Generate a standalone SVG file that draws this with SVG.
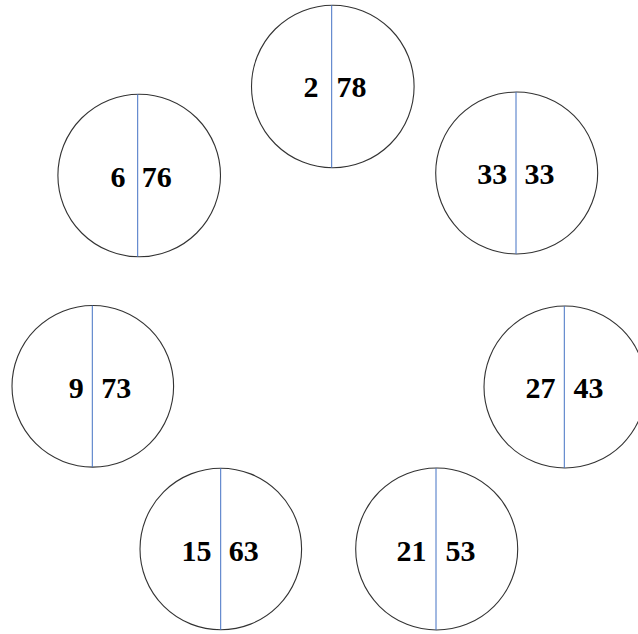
<svg xmlns="http://www.w3.org/2000/svg" width="638" height="634" viewBox="0 0 638 634">
<style>
.c{fill:#fff;stroke:#333;stroke-width:1.1}
.d{stroke:#4472C4;stroke-width:1}
.l{text-anchor:end}
</style>
<rect width="638" height="634" fill="#fff"/>
<g font-family="'Liberation Serif', 'Times New Roman', serif" font-weight="700" font-size="30" fill="#000">
<g id="n1"><circle class="c" cx="332.8" cy="86.5" r="81.3"/><line class="d" x1="331.7" y1="5.2" x2="331.7" y2="167.8"/><text class="l" x="318.6" y="97">2</text><text x="336.5" y="97">78</text></g>
<g id="n2"><circle class="c" cx="139.2" cy="175.5" r="81.3"/><line class="d" x1="137.7" y1="94.2" x2="137.7" y2="256.8"/><text class="l" x="125.6" y="186.5">6</text><text x="141.8" y="186.5">76</text></g>
<g id="n3"><circle class="c" cx="516.7" cy="173" r="81"/><line class="d" x1="516" y1="92" x2="516" y2="254"/><text class="l" x="507.3" y="184">33</text><text x="524.5" y="184">33</text></g>
<g id="n4"><circle class="c" cx="92.8" cy="386.3" r="80.8"/><line class="d" x1="92.3" y1="305.5" x2="92.3" y2="467.1"/><text class="l" x="83.8" y="398">9</text><text x="101.2" y="398">73</text></g>
<g id="n5"><circle class="c" cx="565" cy="387" r="81"/><line class="d" x1="564.3" y1="306" x2="564.3" y2="468"/><text class="l" x="555.5" y="398">27</text><text x="573.5" y="398">43</text></g>
<g id="n6"><circle class="c" cx="220.8" cy="549" r="80.8"/><line class="d" x1="220.7" y1="468.2" x2="220.7" y2="629.8"/><text class="l" x="211.5" y="561">15</text><text x="228.8" y="561">63</text></g>
<g id="n7"><circle class="c" cx="436.7" cy="549" r="81"/><line class="d" x1="436" y1="468" x2="436" y2="630"/><text class="l" x="426.5" y="561">21</text><text x="445.5" y="561">53</text></g>
</g>
<g id="connectors"></g>
</svg>
